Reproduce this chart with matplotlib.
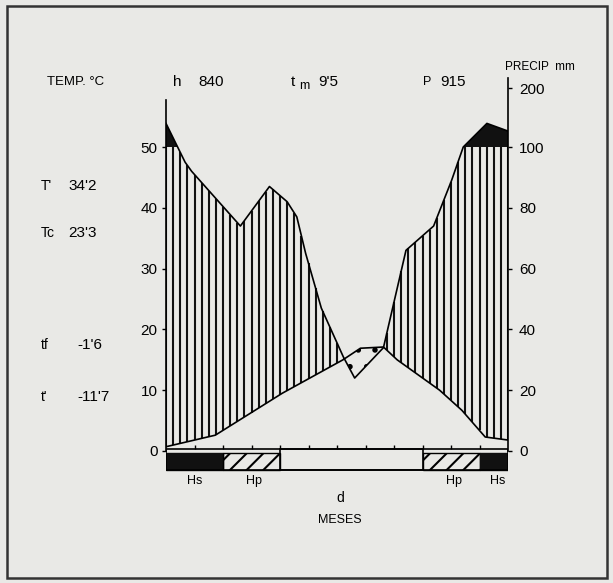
import numpy as np
import matplotlib.pyplot as plt
from matplotlib.patches import Rectangle

plt.rcParams['font.family'] = ['Liberation Sans', 'DejaVu Sans']
plt.rcParams['hatch.linewidth'] = 1.5

# curva de precipitacion (mm), trazada del diagrama: posicion en meses y valor
mes_p = [0, 0.67, 0.9, 2.61, 3.63, 4.25, 4.59, 4.9, 5.45, 6.22, 6.62, 7.63, 8.42, 9.39, 10.02, 10.43, 11.26, 12]
precip = [140, 95, 92, 74, 87, 82, 77, 65, 47, 31, 24, 34, 66, 74, 89, 100, 140, 127]

# curva de temperatura (C)
mes_t = [0, 1.73, 4.08, 6.21, 6.82, 7.63, 8.11, 9.6, 10.38, 11.2, 12]
temp = [0.7, 2.6, 9.5, 15.0, 16.9, 17.1, 15.0, 10.0, 6.7, 2.3, 1.8]

# periodos de helada (barra inferior)
bar_ini = [0, 2, 4, 9, 11]
bar_fin = [2, 4, 9, 11, 12]
bar_tipo = ['Hs', 'Hp', 'd', 'Hp', 'Hs']

temp_ticks = [0, 10, 20, 30, 40, 50]
precip_ticks = [0, 20, 40, 60, 80, 100, 200]

datos_izq = [("T'", "34'2"), ("Tc", "23'3"), ("tf", "-1'6"), ("t'", "-11'7")]


def a_escala(p):
  # 2 mm = 1 C hasta 100 mm, escala reducida por encima
  p = np.asarray(p, dtype=float)
  return np.where(p <= 100, p / 2, 50 + (p - 100) * 0.097)


def px(x, y):
  return x / 613, 1 - y / 583


fondo = '#e9e9e6'
fig = plt.figure(figsize=(6.13, 5.83), dpi=100, facecolor=fondo)
ax = fig.add_axes([166 / 613, 1 - 475 / 583, 342 / 613, 397 / 583])
ax.set_facecolor('none')
ax.set_xlim(0, 12)
ax.set_ylim(-3.95, 61.35)

xs = np.linspace(0, 12, 1201)
t_i = np.interp(xs, mes_t, temp)
p_i = np.interp(xs, mes_p, a_escala(precip))

# rayado vertical del periodo humedo
xv = np.arange(0, 12.001, 0.25)
lo = np.interp(xv, mes_t, temp)
hi = np.minimum(np.interp(xv, mes_p, a_escala(precip)), 50)
m = hi > lo
ax.vlines(xv[m], lo[m], hi[m], color='#111111', lw=1.5)

# por encima de 100 mm en negro
ax.fill_between(xs, 50, p_i, where=p_i > 50, color='#111111', lw=0, interpolate=True)

# periodo seco punteado
ax.fill_between(xs, p_i, t_i, where=t_i > p_i, facecolor='none', edgecolor='k',
                hatch='.', lw=0, interpolate=True)

ax.plot(mes_p, a_escala(precip), color='k', lw=1.2)
ax.plot(mes_t, temp, color='k', lw=1.2)

# barra de heladas
y0, y1 = -3.2, 0.35
for a, b, tipo in zip(bar_ini, bar_fin, bar_tipo):
  if tipo == 'Hs':
    ax.add_patch(Rectangle((a, y0), b - a, -0.3 - y0, facecolor='#111111', edgecolor='#111111', lw=1))
  elif tipo == 'Hp':
    ax.add_patch(Rectangle((a, y0), b - a, -0.3 - y0, facecolor='none', edgecolor='k',
                           hatch='//', lw=1))
  else:
    ax.add_patch(Rectangle((a, y0), b - a, y1 - y0, facecolor='none', edgecolor='k', lw=1.2))
ax.add_patch(Rectangle((0, y0), 12, y1 - y0, facecolor='none', edgecolor='k', lw=1.2))
ax.vlines(np.arange(1, 12), y1, y1 + 0.7, color='k', lw=1)

etiq_x = [1.0, 3.1, 6.1, 10.1, 11.65]
for x, tipo in zip(etiq_x, bar_tipo):
  yy = -6.6 if tipo == 'd' else -4.9
  ax.text(x, yy, tipo, ha='center', va='top' if tipo == 'd' else 'center',
          fontsize=10 if tipo == 'd' else 9, clip_on=False)

# ejes
for s in ['top', 'bottom', 'right']:
  ax.spines[s].set_visible(False)
ax.spines['left'].set_bounds(0, 57.7)
ax.spines['left'].set_linewidth(1.2)
ax.set_xticks([])
ax.set_yticks(temp_ticks)
ax.tick_params(axis='y', length=3, width=1, pad=3, labelsize=11)

ax2 = ax.twinx()
ax2.set_ylim(ax.get_ylim())
ax2.set_yticks(a_escala(precip_ticks))
ax2.set_yticklabels([str(v) for v in precip_ticks])
ax2.tick_params(axis='y', length=3, width=1, pad=5, labelsize=11)
for s in ['top', 'bottom', 'left']:
  ax2.spines[s].set_visible(False)
ax2.spines['right'].set_bounds(0, 61.3)
ax2.spines['right'].set_linewidth(1.2)

# textos
fig.text(*px(47, 82), 'TEMP. °C', fontsize=9.5, va='center')
fig.text(*px(173, 82), 'h', fontsize=11, va='center')
fig.text(*px(198, 82), '840', fontsize=11, va='center')
fig.text(*px(291, 82), 't', fontsize=11, va='center')
fig.text(*px(299, 86), 'm', fontsize=9, va='center')
fig.text(*px(318, 82), "9'5", fontsize=11, va='center')
fig.text(*px(423, 82), 'P', fontsize=9, va='center')
fig.text(*px(440, 82), '915', fontsize=11, va='center')
fig.text(*px(505, 67), 'PRECIP  mm', fontsize=8.5, va='center')

filas_y = [186, 233, 345, 397]
for (k, v), y in zip(datos_izq, filas_y):
  fig.text(*px(41, y), k, fontsize=10, va='center')
  fig.text(*px(68 if v[0] != '-' else 77, y), v, fontsize=11, va='center')

fig.text(*px(340, 520), 'MESES', fontsize=9, ha='center', va='center')

fig.add_artist(Rectangle(px(7, 578), 600 / 613, 572 / 583, transform=fig.transFigure,
                         facecolor='none', edgecolor='#333333', lw=1.8))

fig.savefig('out.png', dpi=100, facecolor=fondo)
